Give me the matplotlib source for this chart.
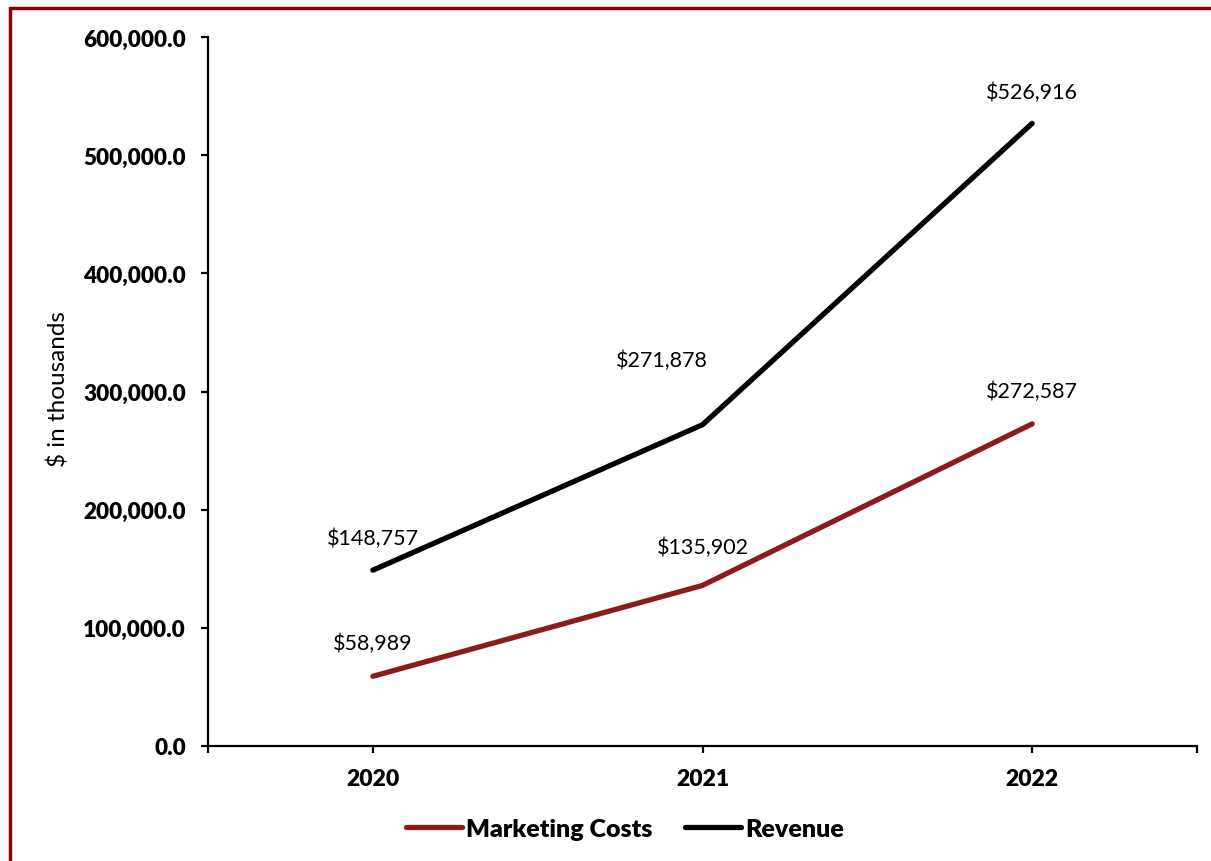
import matplotlib.pyplot as plt
from matplotlib.patches import Rectangle
from matplotlib.ticker import FuncFormatter

plt.rcParams["font.family"] = ["Lato", "DejaVu Sans"]

years = ["2020", "2021", "2022"]
marketing_costs = [58989, 135902, 272587]
revenue = [148757, 271878, 526916]

# label offsets in points (dx, dy) for each data label
revenue_offsets = [(0, 23), (-29, 47), (0, 23)]
marketing_offsets = [(0, 24), (0, 28), (0, 24)]

RED = "#8B1C1C"

fig = plt.figure(figsize=(12.11, 8.62), dpi=100)
ax = fig.add_axes([208 / 1211, 1 - 747 / 862, (1197 - 208) / 1211, (747 - 38) / 862])

x = range(len(years))
ax.plot(x, marketing_costs, color=RED, lw=3.8, solid_capstyle="round",
        label="Marketing Costs")
ax.plot(x, revenue, color="black", lw=3.8, solid_capstyle="round",
        label="Revenue")

for xi, v, off in zip(x, revenue, revenue_offsets):
    ax.annotate(f"${v:,.0f}", (xi, v), xytext=off, textcoords="offset points",
                ha="center", va="center", fontsize=15.5)
for xi, v, off in zip(x, marketing_costs, marketing_offsets):
    ax.annotate(f"${v:,.0f}", (xi, v), xytext=off, textcoords="offset points",
                ha="center", va="center", fontsize=15.5)

ax.set_xlim(-0.5, 2.5)
ax.set_ylim(0, 600000)
ax.set_yticks(range(0, 600001, 100000))
ax.yaxis.set_major_formatter(FuncFormatter(lambda v, p: f"{v:,.1f}"))
ax.set_xticks([-0.5, 0, 1, 2, 2.5])
ax.set_xticklabels(["", *years, ""])

for side in ["top", "right"]:
    ax.spines[side].set_visible(False)
for side in ["left", "bottom"]:
    ax.spines[side].set_linewidth(1.6)

ax.tick_params(axis="y", direction="out", length=5, width=1.6, pad=11,
               labelsize=16.2)
ax.tick_params(axis="x", direction="out", length=5, width=1.6, pad=11,
               labelsize=16.5)
for lbl in ax.get_xticklabels() + ax.get_yticklabels():
    lbl.set_fontweight("heavy")

ax.set_ylabel("$ in thousands", fontsize=17.5)
ax.yaxis.set_label_coords(-0.14, 0.505)

fig.legend(loc="center", bbox_to_anchor=(0.516, 0.037), ncol=2, frameon=False,
           handlelength=2.24, handletextpad=0.16, columnspacing=1.3,
           prop={"size": 18, "weight": "heavy"})

# dark red frame around the chart area
fig.patches.append(Rectangle((9.5 / 1211, -0.05), 1.1, 1 - 9 / 862 + 0.05,
                             transform=fig.transFigure, fill=False,
                             edgecolor="#8B0000", lw=2.5, zorder=10))

fig.savefig("out.png", dpi=100)
